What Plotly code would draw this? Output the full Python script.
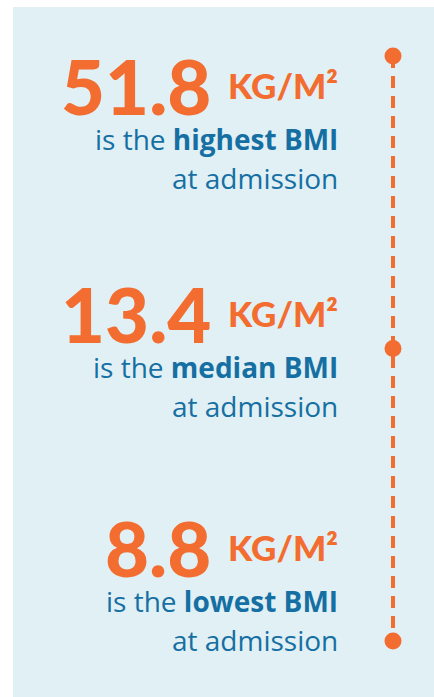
import plotly.graph_objects as go

# ---- data ----
stats = ["highest", "median", "lowest"]
bmi_values = [51.8, 13.4, 8.8]
unit = "KG/M²"
line1_prefix = "is the"
line2 = "at admission"

ORANGE = "#F36C30"
BLUE = "#156FA3"
PANEL = "#E0F0F4"
NUM_FONT = "Lato"
TXT_FONT = "Open Sans"

W, H = 434, 697
ML, MT = 13, 7
PW, PH = W - ML, H - MT

def px(x):
    return (x - ML) / PW

def py(y):
    return 1 - (y - MT) / PH

fig = go.Figure()

idx = list(range(len(stats)))
fig.add_trace(go.Scatter(
    x=[0] * len(stats), y=idx, mode="lines+markers",
    line=dict(color=ORANGE, width=4, dash="12px,8px"),
    marker=dict(color=ORANGE, size=17, line=dict(width=0)),
    hoverinfo="skip", cliponaxis=False, showlegend=False,
))

num_centers = [84.5, 312.5, 546]
TS = 28
mid = 0.388 * TS  # bbox centre above baseline
for i, (s, v) in enumerate(zip(stats, bmi_values)):
    c = num_centers[i]
    fig.add_annotation(
        xref="paper", yref="paper", x=px(212), y=py(c + 1),
        xanchor="right", yanchor="middle", showarrow=False, borderpad=0,
        text=f"{v:.1f}",
        font=dict(family=NUM_FONT, size=76, color=ORANGE, weight=900),
    )
    fig.add_annotation(
        xref="paper", yref="paper", x=px(339), y=py(c + 0.5),
        xanchor="right", yanchor="middle", showarrow=False, borderpad=0,
        text=unit,
        font=dict(family=NUM_FONT, size=35, color=ORANGE, weight=900),
    )
    fig.add_annotation(
        xref="paper", yref="paper", x=px(339), y=py(c + 65.5 - mid),
        xanchor="right", yanchor="middle", showarrow=False, borderpad=0,
        text=f"{line1_prefix} <b>{s} BMI</b>",
        font=dict(family=TXT_FONT, size=TS, color=BLUE),
    )
    fig.add_annotation(
        xref="paper", yref="paper", x=px(339), y=py(c + 104.5 - mid),
        xanchor="right", yanchor="middle", showarrow=False, borderpad=0,
        text=line2,
        font=dict(family=TXT_FONT, size=TS, color=BLUE),
    )

fig.update_layout(
    width=W, height=H,
    margin=dict(l=ML, r=0, t=MT, b=0, pad=0),
    paper_bgcolor="white", plot_bgcolor=PANEL,
    xaxis=dict(range=[-380, PW - 380], visible=False, fixedrange=True),
    yaxis=dict(range=[2.1915, -0.1675], visible=False, fixedrange=True),
)

fig.write_html("out.html", config={"displayModeBar": False},
               post_script="document.body.style.margin='0';document.body.style.overflow='hidden';")
